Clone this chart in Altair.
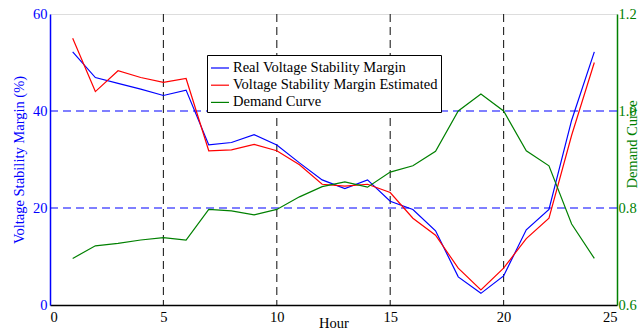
import altair as alt
import pandas as pd

hours = list(range(1, 25))
real_margin = [52.2, 46.9, 45.7, 44.5, 43.2, 44.3, 33.0, 33.5, 35.1, 33.0, 29.3, 25.8,
               24.0, 25.8, 21.4, 19.7, 15.3, 5.8, 2.4, 6.0, 15.5, 19.7, 38.1, 52.2]
est_margin = [55.0, 44.0, 48.3, 46.9, 45.9, 46.7, 31.8, 32.0, 33.1, 31.8, 28.9, 24.9,
              24.5, 24.9, 23.2, 17.9, 14.4, 7.6, 3.1, 7.6, 13.7, 17.9, 35.0, 50.0]
demand = [0.696, 0.722, 0.727, 0.734, 0.739, 0.734, 0.797, 0.794, 0.786, 0.797, 0.823, 0.844,
          0.854, 0.843, 0.874, 0.887, 0.917, 1.0, 1.035, 1.0, 0.918, 0.887, 0.767, 0.696]

series_names = ["Real Voltage Stability Margin", "Voltage Stability Margin Estimated", "Demand Curve"]
series_colors = ["#0000FF", "#FF0000", "#008000"]
x_ticks = [0, 5, 10, 15, 20, 25]
vgrid_at = [5, 10, 15, 20]
hgrid_at = [20, 40]

FONT = "Liberation Serif"

df_left = pd.DataFrame({
    "hour": hours * 2,
    "value": real_margin + est_margin,
    "series": [series_names[0]] * 24 + [series_names[1]] * 24,
    "ord": [0] * 24 + [1] * 24,
})
df_right = pd.DataFrame({"hour": hours, "demand": demand, "series": [series_names[2]] * 24})

xscale = alt.Scale(domain=[0, 25], nice=False, zero=False)
xaxis = alt.Axis(values=x_ticks, grid=False, title="Hour", labelFont=FONT, labelFontSize=14.5,
                 labelColor="black", titleFont=FONT, titleFontSize=14.5, titleFontWeight="normal",
                 titleColor="black", domainColor="black", domainWidth=1.5, tickSize=0,
                 labelPadding=5, titleY=22, titleBaseline="alphabetic")

color = alt.Color("series:N", scale=alt.Scale(domain=series_names, range=series_colors),
                  legend=alt.Legend(title=None, orient="none", legendX=157, legendY=41,
                                    direction="vertical", strokeColor="black", fillColor="white",
                                    padding=3, symbolType="stroke", symbolSize=324,
                                    symbolStrokeWidth=1.2, labelFont=FONT, labelFontSize=14.5,
                                    labelColor="black", rowPadding=0.2, labelOffset=3,
                                    labelLimit=400))

vgrid = alt.Chart(pd.DataFrame({"h": vgrid_at})).mark_rule(
    color="#222222", strokeDash=[8, 5], strokeWidth=1.1
).encode(x=alt.X("h:Q", scale=xscale, axis=xaxis))

hgrid = alt.Chart(pd.DataFrame({"v": hgrid_at})).mark_rule(
    color="#0000FF", strokeDash=[8, 5], strokeWidth=1.1
).encode(y=alt.Y("v:Q", scale=alt.Scale(domain=[0, 60], nice=False), axis=None))

left = alt.Chart(df_left).mark_line(strokeWidth=1.2).encode(
    x=alt.X("hour:Q", scale=xscale, axis=xaxis),
    y=alt.Y("value:Q", scale=alt.Scale(domain=[0, 60], nice=False),
            axis=alt.Axis(values=[0, 20, 40, 60], grid=False, orient="left",
                          title="Voltage Stability Margin (%)", labelFont=FONT, labelFontSize=14.5,
                          labelColor="#0000FF", titleFont=FONT, titleFontSize=14.5,
                          titleFontWeight="normal", titleColor="#0000FF", domainColor="#0000FF",
                          domainWidth=1.5, tickSize=0, labelPadding=3, titlePadding=6)),
    color=color,
    order="ord:Q",
)

right = alt.Chart(df_right).mark_line(strokeWidth=1.2).encode(
    x=alt.X("hour:Q", scale=xscale, axis=xaxis),
    y=alt.Y("demand:Q", scale=alt.Scale(domain=[0.6, 1.2], nice=False, zero=False),
            axis=alt.Axis(values=[0.6, 0.8, 1.0, 1.2], grid=False, orient="right",
                          title="Demand Curve", labelFont=FONT, labelFontSize=14.5,
                          labelColor="#008000", titleFont=FONT, titleFontSize=14.5,
                          titleFontWeight="normal", titleColor="#008000", domainColor="#008000",
                          domainWidth=1.5, tickSize=0, labelPadding=1, titleAngle=270,
                          titleBaseline="top", titleX=8, titleY=130)),
    color=color,
)

chart = alt.layer(vgrid, hgrid, left, right).resolve_scale(y="independent").properties(
    width=567, height=291,
    autosize=alt.AutoSizeParams(type="none"),
    padding={"left": 50, "top": 14, "right": 21, "bottom": 25},
).configure_view(stroke="black", strokeWidth=1.5).configure_legend(strokeWidth=1.5).configure(
    background="white"
)

chart.save("out.html", embed_options={"renderer": "svg", "actions": False})
